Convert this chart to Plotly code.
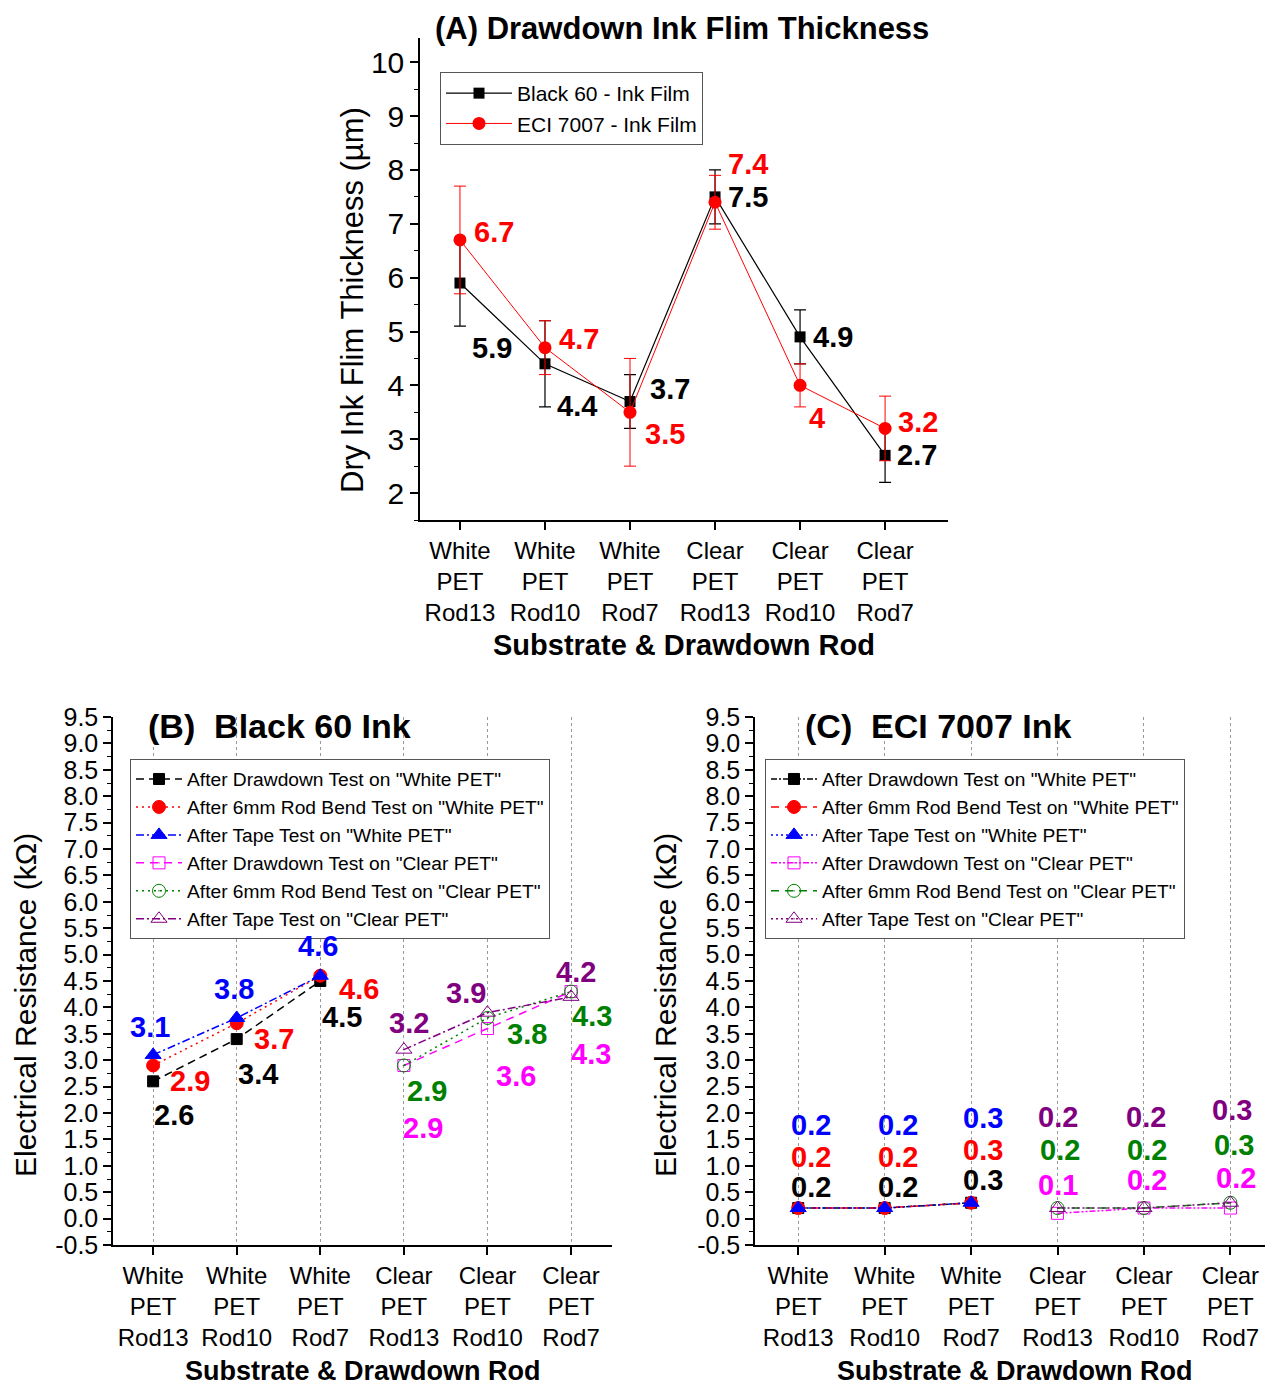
import plotly.graph_objects as go

# ---------------- data ----------------
categories = ["White<br>PET<br>Rod13", "White<br>PET<br>Rod10", "White<br>PET<br>Rod7",
              "Clear<br>PET<br>Rod13", "Clear<br>PET<br>Rod10", "Clear<br>PET<br>Rod7"]
cat_pos = [1, 2, 3, 4, 5, 6]
white_pos = [1, 2, 3]
clear_pos = [4, 5, 6]

# y tick values
a_yticks = [2, 3, 4, 5, 6, 7, 8, 9, 10]
bc_yticks = [-0.5, 0.0, 0.5, 1.0, 1.5, 2.0, 2.5, 3.0, 3.5, 4.0, 4.5,
             5.0, 5.5, 6.0, 6.5, 7.0, 7.5, 8.0, 8.5, 9.0, 9.5]
bc_yticklabels = [f"{v:.1f}" for v in bc_yticks]

# Panel A
a_black = [5.9, 4.4, 3.7, 7.5, 4.9, 2.7]
a_black_err = [0.8, 0.8, 0.5, 0.5, 0.5, 0.5]
a_red = [6.7, 4.7, 3.5, 7.4, 4.0, 3.2]
a_red_err = [1.0, 0.5, 1.0, 0.5, 0.4, 0.6]

# Panel B (Black 60 ink)
b_dd_white = [2.6, 3.4, 4.5]
b_bend_white = [2.9, 3.7, 4.6]
b_tape_white = [3.1, 3.8, 4.6]
b_dd_clear = [2.9, 3.6, 4.3]
b_bend_clear = [2.9, 3.8, 4.3]
b_tape_clear = [3.2, 3.9, 4.2]

# Panel C (ECI 7007 ink)
c_dd_white = [0.2, 0.2, 0.3]
c_bend_white = [0.2, 0.2, 0.3]
c_tape_white = [0.2, 0.2, 0.3]
c_dd_clear = [0.1, 0.2, 0.2]
c_bend_clear = [0.2, 0.2, 0.3]
c_tape_clear = [0.2, 0.2, 0.3]

names = ['After Drawdown Test on "White PET"',
         'After 6mm Rod Bend Test on "White PET"',
         'After Tape Test on "White PET"',
         'After Drawdown Test on "Clear PET"',
         'After 6mm Rod Bend Test on "Clear PET"',
         'After Tape Test on "Clear PET"']

# ---------------- styles ----------------
FONT = "Arial, Liberation Sans, sans-serif"
BLACK, RED, BLUE = "#000000", "#FF0000", "#0000FF"
MAG, GREEN, PURP = "#FF00FF", "#008000", "#800080"
colors = [BLACK, RED, BLUE, MAG, GREEN, PURP]
symbols = ["square", "circle", "triangle-up", "square-open-dot", "circle-open-dot", "triangle-up-open-dot"]
msizes = [11, 13, 14, 12, 13, 14]
b_dash = ["8px,5px", "2px,4px", "8px,3px,2px,3px", "8px,6px", "2px,4px", "8px,3px,2px,3px"]
c_dash = ["6px,2px,2px,2px", "8px,6px", "2px,3px", "6px,2px,2px,2px,2px,2px", "8px,6px", "2px,3px"]

# label offsets in pixels (dx right, dy down)
a_black_off = [(32, 65), (32, 42), (40, -13), (33, 0), (33, 0), (32, 0)]
a_red_off = [(34, -8), (34, -9), (35, 22), (33, -38), (17, 33), (33, -6)]
b_off = [
    [(21, 34), (21, 35), (22, 36)],
    [(37, 16), (37, 16), (39, 13)],
    [(-3, -28), (-3, -29), (-2, -30)],
    [(19, 63), (29, 47), (20, 62)],
    [(23, 26), (40, 16), (21, 24)],
    [(5, -27), (-21, -20), (5, -25)],
]
c_off = [
    [(13, -21), (13, -21), (12, -23)],
    [(13, -51), (13, -51), (12, -53)],
    [(13, -83), (13, -83), (12, -85)],
    [(0, -28), (3, -28), (6, -30)],
    [(2, -58), (3, -58), (4, -58)],
    [(0, -91), (2, -91), (2, -93)],
]

W, H = 1265, 1387
def px(x): return x / W
def py(y): return 1 - y / H

fig = go.Figure()
annotations = []

# ---------------- Panel A ----------------
fig.add_trace(go.Scatter(
    x=cat_pos, y=a_black, mode="lines+markers", name="Black 60 - Ink Film",
    line=dict(color=BLACK, width=1.2),
    marker=dict(symbol="square", size=11, color=BLACK),
    error_y=dict(type="data", array=a_black_err, visible=True, color=BLACK, thickness=1.2, width=6),
    xaxis="x", yaxis="y", legend="legend"))
fig.add_trace(go.Scatter(
    x=cat_pos, y=a_red, mode="lines+markers", name="ECI 7007 - Ink Film",
    line=dict(color=RED, width=1),
    marker=dict(symbol="circle", size=13, color=RED),
    error_y=dict(type="data", array=a_red_err, visible=True, color=RED, thickness=1, width=6),
    xaxis="x", yaxis="y", legend="legend"))

for vals, offs, col in [(a_black, a_black_off, BLACK), (a_red, a_red_off, RED)]:
    for xv, yv, (dx, dy) in zip(cat_pos, vals, offs):
        annotations.append(dict(x=xv, y=yv, xref="x", yref="y", text=f"{yv:g}", showarrow=False,
                                xshift=dx, yshift=-dy,
                                font=dict(family=FONT, size=29, color=col, weight="bold")))

# ---------------- Panels B & C ----------------
b_vals = [b_dd_white, b_bend_white, b_tape_white, b_dd_clear, b_bend_clear, b_tape_clear]
c_vals = [c_dd_white, c_bend_white, c_tape_white, c_dd_clear, c_bend_clear, c_tape_clear]

for panel, vals_list, dashes, offs, xa, ya, leg in [
        ("B", b_vals, b_dash, b_off, "x2", "y2", "legend2"),
        ("C", c_vals, c_dash, c_off, "x3", "y3", "legend3")]:
    for i, vals in enumerate(vals_list):
        xs = white_pos if i < 3 else clear_pos
        fig.add_trace(go.Scatter(
            x=xs, y=vals, mode="lines+markers", name=names[i],
            line=dict(color=colors[i], width=1.5, dash=dashes[i]),
            marker=dict(symbol=symbols[i], size=msizes[i], color=colors[i],
                        line=dict(color=colors[i], width=1)),
            xaxis=xa, yaxis=ya, legend=leg))
        for xv, yv, (dx, dy) in zip(xs, vals, offs[i]):
            annotations.append(dict(x=xv, y=yv, xref=xa, yref=ya, text=f"{yv:g}", showarrow=False,
                                    xshift=dx, yshift=-dy,
                                    font=dict(family=FONT, size=29, color=colors[i], weight="bold")))

# ---------------- titles ----------------
def ann(x, y, text, size, bold=False, angle=0):
    annotations.append(dict(x=px(x), y=py(y), xref="paper", yref="paper", text=text,
                            showarrow=False, textangle=angle, xanchor="center", yanchor="middle",
                            font=dict(family=FONT, size=size, color="black",
                                      weight="bold" if bold else "normal")))

ann(682, 29, "(A) Drawdown Ink Flim Thickness", 31, bold=True)
ann(352, 300, "Dry Ink Flim Thickness (µm)", 31, angle=-90)
ann(684, 645, "Substrate &amp; Drawdown Rod", 29, bold=True)

ann(279, 726, "(B)  Black 60 Ink", 34, bold=True)
ann(25, 1005, "Electrical Resistance (kΩ)", 30, angle=-90)
ann(363, 1371, "Substrate &amp; Drawdown Rod", 27, bold=True)

ann(938, 726, "(C)  ECI 7007 Ink", 34, bold=True)
ann(665, 1005, "Electrical Resistance (kΩ)", 30, angle=-90)
ann(1015, 1371, "Substrate &amp; Drawdown Rod", 27, bold=True)

# ---------------- axes ----------------
def xaxis(domain, rng, grid, size):
    return dict(domain=domain, range=rng, tickvals=cat_pos, ticktext=categories,
                tickfont=dict(family=FONT, size=size, color="black"),
                ticks="outside", ticklen=8, tickwidth=1.5, tickcolor="black",
                showline=True, linecolor="black", linewidth=1.5,
                showgrid=grid, gridcolor="#999999", griddash="dot", gridwidth=1,
                zeroline=False, fixedrange=True, automargin=False)

def yaxis(domain, rng, tickvals, ticktext, minor, xa, size):
    return dict(domain=domain, range=rng, tickvals=tickvals, ticktext=ticktext,
                tickfont=dict(family=FONT, size=size, color="black"),
                ticks="outside", ticklen=8, tickwidth=1.5, tickcolor="black",
                minor=dict(dtick=minor, tick0=0, ticks="outside", ticklen=4, tickwidth=1.2,
                           tickcolor="black"),
                showline=True, linecolor="black", linewidth=1.5,
                showgrid=False, zeroline=False, anchor=xa, fixedrange=True, automargin=False)

legend_common = dict(xanchor="left", yanchor="top", bgcolor="white",
                     bordercolor="#555555", borderwidth=1, tracegroupgap=0)

layout = dict(
    template="none",
    width=W, height=H, margin=dict(l=0, r=0, t=0, b=0, autoexpand=False),
    paper_bgcolor="white", plot_bgcolor="white",
    font=dict(family=FONT, color="black"),
    xaxis=dict(**xaxis([px(420), px(948)], [0.53, 6.74], False, 24), anchor="y"),
    yaxis=yaxis([py(520), py(38)], [1.5, 10.45], a_yticks, [str(v) for v in a_yticks], 0.5, "x", 30),
    xaxis2=dict(**xaxis([px(113), px(612)], [0.52, 6.49], True, 24), anchor="y2"),
    yaxis2=yaxis([py(1245), py(717)], [-0.5, 9.5], bc_yticks, bc_yticklabels, 0.25, "x2", 25),
    xaxis3=dict(**xaxis([px(755), 1.0], [0.5, 6.40], True, 24), anchor="y3"),
    yaxis3=yaxis([py(1245), py(717)], [-0.5, 9.5], bc_yticks, bc_yticklabels, 0.25, "x3", 25),
    legend=dict(x=px(440), y=py(72), font=dict(family=FONT, size=21, color="black"),
                itemwidth=66, **legend_common),
    legend2=dict(x=px(130), y=py(759), font=dict(family=FONT, size=19.2, color="black"),
                 itemwidth=46, **legend_common),
    legend3=dict(x=px(765), y=py(759), font=dict(family=FONT, size=19.2, color="black"),
                 itemwidth=46, **legend_common),
    annotations=annotations,
    showlegend=True,
)
fig.update_layout(**layout)
fig.write_html("out.html", config={"displayModeBar": False},
               post_script="document.body.style.margin='0';document.body.style.overflow='hidden';")
